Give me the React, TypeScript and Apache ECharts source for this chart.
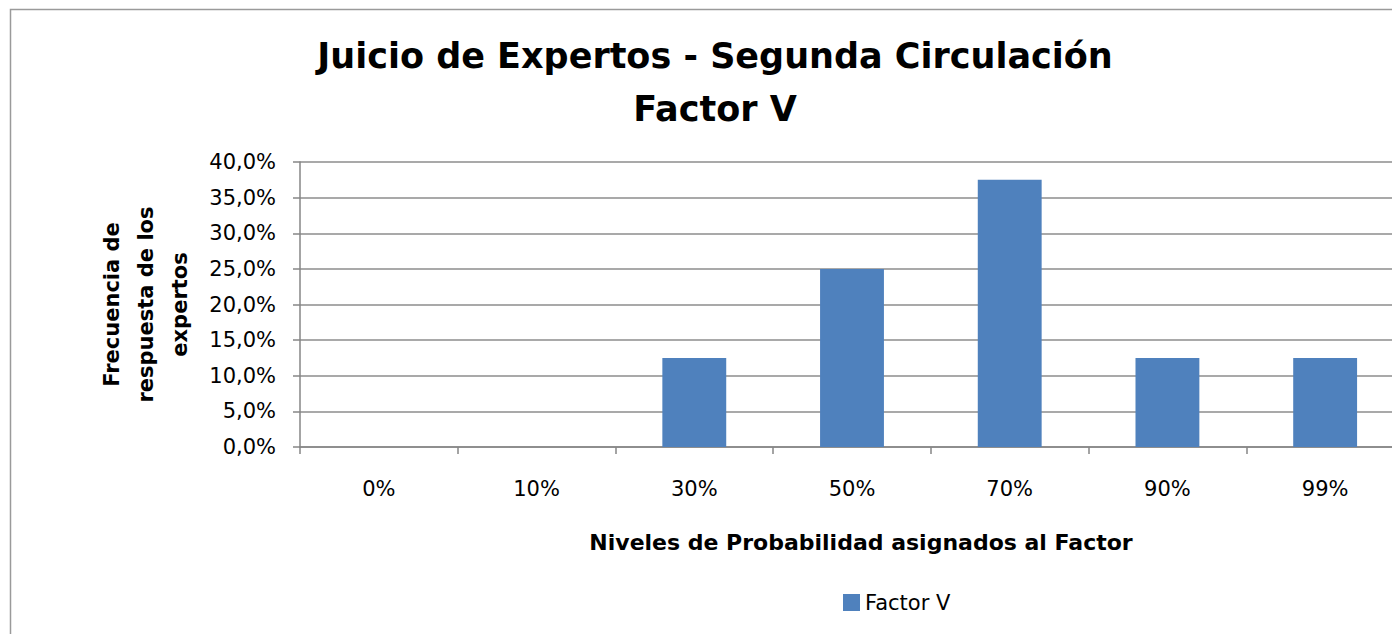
import React, { useEffect, useRef } from "react";
import * as echarts from "echarts";

const categories = ["0%", "10%", "30%", "50%", "70%", "90%", "99%"];
const values = [0, 0, 12.5, 25, 37.5, 12.5, 12.5];
const seriesName = "Factor V";
const titleLines = ["Juicio de Expertos - Segunda Circulación", "Factor V"];
const xName = "Niveles de Probabilidad asignados al Factor";
const yName = "Frecuencia de\nrespuesta de los\nexpertos";

const FONT = "'DejaVu Sans', 'Liberation Sans', sans-serif";

export default function App() {
  const ref = useRef<HTMLDivElement>(null);
  useEffect(() => {
    if (!ref.current) return;
    const chart = echarts.init(ref.current, null, { renderer: "svg" });
    chart.setOption({
      animation: false,
      backgroundColor: "#ffffff",
      textStyle: { fontFamily: FONT },
      title: {
        text: titleLines.join("\n"),
        left: 702,
        top: 16,
        textAlign: "center",
        textStyle: {
          fontFamily: FONT,
          fontSize: 35,
          fontWeight: "bold",
          color: "#000",
          lineHeight: 53,
        },
      },
      graphic: [
        {
          type: "rect",
          shape: { x: 2.5, y: 1.5, width: 1500, height: 700 },
          style: { fill: "none", stroke: "#9a9a9a", lineWidth: 1.5 },
          silent: true,
        },
      ],
      legend: {
        left: 830,
        top: 579,
        itemWidth: 17,
        itemHeight: 17,
        itemGap: 5,
        icon: "rect",
        textStyle: { fontFamily: FONT, fontSize: 21, color: "#000" },
        data: [seriesName],
      },
      grid: { left: 292, top: 154, height: 285, width: 1104 },
      xAxis: {
        type: "category",
        data: categories,
        name: xName,
        nameLocation: "middle",
        nameGap: 84,
        nameTextStyle: {
          fontFamily: FONT,
          fontSize: 22,
          fontWeight: "bold",
          color: "#000",
          padding: [0, 0, 0, 18],
        },
        axisLine: { lineStyle: { color: "#868686", width: 1.5 } },
        axisTick: { show: true, length: 7, lineStyle: { color: "#868686", width: 1.5 } },
        axisLabel: { fontFamily: FONT, fontSize: 21, color: "#000", margin: 31 },
      },
      yAxis: {
        type: "value",
        min: 0,
        max: 40,
        interval: 5,
        name: yName,
        nameLocation: "middle",
        nameRotate: 90,
        nameGap: 103,
        nameTextStyle: {
          fontFamily: FONT,
          fontSize: 21,
          fontWeight: "bold",
          color: "#000",
          lineHeight: 34,
        },
        axisLine: { show: true, lineStyle: { color: "#868686", width: 1.5 } },
        axisTick: { show: true, length: 7, lineStyle: { color: "#868686", width: 1.5 } },
        axisLabel: {
          fontFamily: FONT,
          fontSize: 21,
          color: "#000",
          margin: 24,
          formatter: (v: number) => v.toFixed(1).replace(".", ",") + "%",
        },
        splitLine: { lineStyle: { color: "#8c8c8c", width: 1.5 } },
      },
      series: [
        {
          name: seriesName,
          type: "bar",
          data: values,
          barWidth: "40.5%",
          itemStyle: { color: "#4f81bd" },
        },
      ],
    });
    return () => chart.dispose();
  }, []);
  return (
    <div style={{ width: 1392, height: 626, overflow: "hidden" }}>
      <div ref={ref} style={{ width: 1420, height: 626 }} />
    </div>
  );
}
